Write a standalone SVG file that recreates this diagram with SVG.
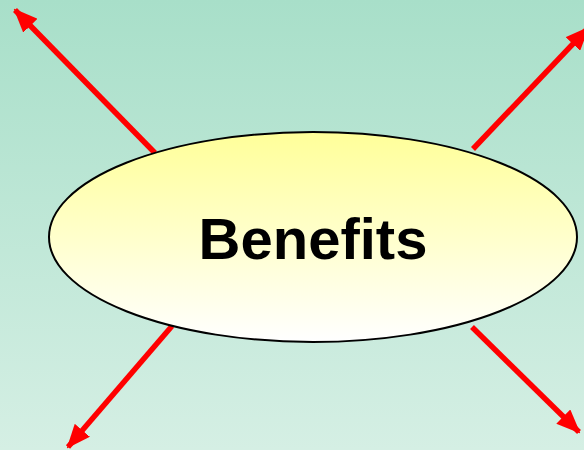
<svg xmlns="http://www.w3.org/2000/svg" width="584" height="450" viewBox="0 0 584 450">
<defs>
<linearGradient id="bg" x1="0" y1="0" x2="0" y2="1">
<stop offset="0" stop-color="#a8dfc9"/>
<stop offset="1" stop-color="#d5efe4"/>
</linearGradient>
<linearGradient id="el" x1="0" y1="0" x2="0" y2="1">
<stop offset="0" stop-color="#ffff99"/>
<stop offset="1" stop-color="#ffffff"/>
</linearGradient>
<marker id="ah" markerUnits="userSpaceOnUse" markerWidth="24" markerHeight="20" refX="22" refY="10" orient="auto">
<path d="M0,0 L24,10 L0,20 Z" fill="#ff0000"/>
</marker>
<style>
.arr{stroke:#ff0000;stroke-width:5.5;fill:none;marker-end:url(#ah)}
.lbl{font-family:"Liberation Sans",Arial,sans-serif;font-weight:bold;font-size:58px;fill:#000;text-anchor:middle}
</style>
</defs>
<rect x="0" y="0" width="584" height="450" fill="url(#bg)"/>
<g id="connectors">
<line class="arr" x1="155" y1="153" x2="15" y2="10"/>
<line class="arr" x1="473" y1="149" x2="588" y2="28"/>
<line class="arr" x1="172" y1="326" x2="68" y2="447"/>
<line class="arr" x1="472" y1="327" x2="579" y2="432"/>
</g>
<g id="benefits">
<ellipse cx="313" cy="237" rx="264" ry="105" fill="url(#el)" stroke="#000" stroke-width="2"/>
<text class="lbl" x="313" y="259">Benefits</text>
</g>
</svg>
